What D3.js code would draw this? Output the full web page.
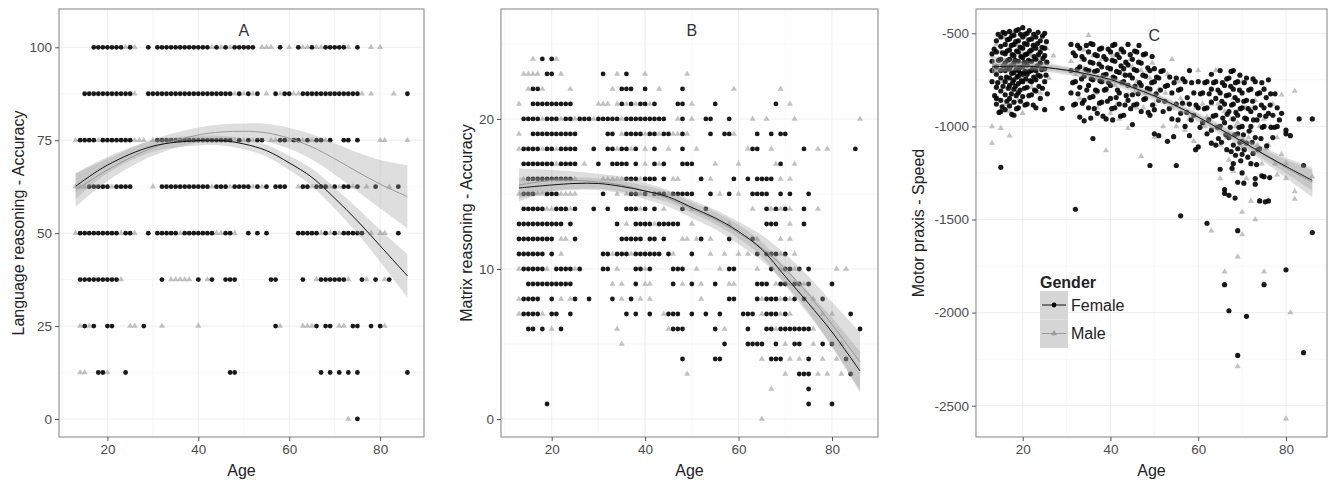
<!DOCTYPE html>
<html><head><meta charset="utf-8">
<script src="https://cdn.jsdelivr.net/npm/d3@7"></script>
<style>body{margin:0;background:#fff;} text{font-family:"Liberation Sans",Arial,sans-serif;}</style>
</head><body><svg id="c" width="1336" height="481"></svg>
<script>
// ---------------- Panel A: Language reasoning (accuracy levels) ----------------
const levelsA = [0, 12.5, 25, 37.5, 50, 62.5, 75, 87.5, 100];
const agesA_F = [
  [75],
  [18,19,24,47,48,67,69,71,73,75,86],
  [15,17,20,21,28,57,66,68,69,74,75,78,80],
  [14,15,16,17,18,19,20,21,22,32,40,43,46,47,48,56,57,63,67,68,69,70,71,72,76,79,82],
  [14,15,16,17,18,19,20,21,22,24,25,29,31,32,33,34,35,37,38,39,40,41,42,43,46,47,51,53,55,62,63,64,65,66,68,70,72,73,74,75,76,84],
  [16,17,18,19,20,22,23,24,25,32,33,34,35,36,37,38,39,40,41,42,44,45,46,48,49,50,51,53,55,57,58,59,63,64,66,67,68,70,72,73,75,79,84],
  [14,15,16,17,19,20,21,22,23,24,25,31,32,33,34,35,36,37,38,39,40,41,42,43,44,45,46,47,49,51,53,54,58,59,61,62,64,66,67,69,72,73,75],
  [15,16,17,18,19,20,21,22,23,24,25,29,30,31,32,33,34,35,36,37,38,39,40,41,42,43,44,45,46,47,49,51,53,57,59,60,63,64,65,66,67,68,69,70,71,72,73,74,75,86],
  [17,18,19,20,21,22,23,25,29,31,32,33,34,35,36,37,38,39,40,41,42,44,46,48,49,50,51,52,58,62,65,68,69,70,71,72,75]
];
const agesA_M = [
  [73],
  [14,15,20],
  [14,16,25,26,32,40,58,63,64,65,71,72,81],
  [23,34,35,36,37,38,42,66,73,77,81],
  [13,23,26,36,44,45,48,67,69,71,78,80,81],
  [13,14,15,21,30,43,47,52,54,62,65,69,71,74,77,82],
  [13,18,26,27,28,30,48,50,52,56,57,60,63,65,68,80,81,86],
  [26,48,50,52,55,58,61,62,76,78,83],
  [24,26,43,45,47,54,55,56,60,63,64,66,67,73,78,80]
];
const fitAgesA = [13,20,30,40,45,50,55,60,65,70,75,80,86];
const fitA_F = [62.6,68.3,73.4,74.9,74.9,74.0,72.2,68.9,65.0,59.4,53.3,46.6,38.5];
const halfA_F = [3.5,2.2,1.5,1.3,1.3,1.4,1.6,1.9,2.3,2.8,3.4,4.3,5.8];
const fitA_M = [61.5,67.0,73.0,76.4,77.2,77.4,77.0,75.5,73.2,70.0,66.5,63.2,59.8];
const halfA_M = [4.5,3.0,2.2,2.0,2.0,2.1,2.4,2.8,3.4,4.2,5.2,6.5,8.5];
const ticksA = [0,25,50,75,100];

// ---------------- Panel B: Matrix reasoning (scores 0..24) ----------------
const levelsB = [0,1,2,3,4,5,6,7,8,9,10,11,12,13,14,15,16,17,18,19,20,21,22,23,24];
const agesB_F = [
  [],
  [19,75,80],
  [75],
  [73,74,75,84],
  [48,55,56,67,68,69,75,83],
  [57,62,63,64,65,68,72,73,78,80],
  [15,16,18,22,46,47,48,55,62,66,67,69,70,71,72,73,74,75,86],
  [14,15,16,17,20,21,24,36,38,41,45,46,47,50,53,56,61,62,63,66,67,68,70,84],
  [14,15,16,17,20,25,28,33,37,58,59,64,66,67,68,70,72,74,78],
  [15,16,17,18,19,20,21,22,23,24,38,46,50,55,64,65,66,69,70,72,73,75,80],
  [14,15,16,17,18,21,22,23,24,26,31,32,38,39,41,46,47,48,58,59,67,70,71,73,75],
  [13,14,15,16,17,18,20,31,32,34,35,36,38,39,40,41,42,43,45,50,64,66,67,68,70],
  [13,14,15,16,17,18,19,20,25,35,36,37,38,39,41,42,44,52,58,63],
  [13,14,15,16,17,18,19,20,21,22,24,34,38,39,40,41,43,44,45,46,47,66,67,68,74],
  [14,15,16,17,18,21,22,23,25,29,32,36,37,38,40,42,48,53,66,68,70,74],
  [14,15,16,19,20,21,31,37,38,40,42,43,44,46,47,48,49,50,54,58,63,64,65,66,69,71,75],
  [15,16,17,18,19,20,21,22,23,24,36,37,38,40,41,42,44,52,59,62,64,65,66,67],
  [14,15,16,17,18,19,20,22,23,24,25,30,33,34,35,36,38,42,44,48,49,50,69],
  [14,15,16,17,19,20,22,23,24,25,29,32,33,35,36,38,42,48,63,64,74,85],
  [16,17,18,19,20,21,22,23,24,25,32,33,36,37,38,39,41,42,44,45,48,54,57,58,64,67,69,70],
  [14,15,16,17,19,20,21,23,24,26,27,28,30,31,32,33,34,36,37,38,39,40,41,42,43,44,48,53,54,58],
  [16,17,18,19,20,21,22,23,24,35,37,39,40,42,47,48,55,68],
  [16,17,35,36,37,40,48],
  [19,20,31,36],
  [18,20]
];
const agesB_M = [
  [65],
  [],
  [67],
  [49,70,77,79,82],
  [65,71,73,78,81],
  [35,70,76,82],
  [20,34,45,57,68,76],
  [13,18,44,65,69,71,78,80],
  [13,22,24,35,39,41,52,65,69,71,76],
  [33,35,40,41,48,52,58,59,68,71,74],
  [13,19,25,34,40,51,56,64,69,72,81,83],
  [22,33,37,46,54,57,60,62,69,72],
  [22,23,48,49,51,54,64,69,71],
  [36,42,50,58,71],
  [19,20,24,39,44,50,63,67,69,71,77],
  [13,17,18,22,23,24,25,34,36,39,45,56,60],
  [14,25,31,32,33,34,35,39,46,47,54,69,71],
  [21,27,40,43,55,60,68,72],
  [13,18,21,34,37,40,45,51,62,67,77,79],
  [13,35,40,43,46,47,49,59],
  [18,22,25,29,35,47,50,63,66,72,86],
  [13,30,31,32,34,36,38,41,50,71],
  [15,18,24,33,43,59,69],
  [14,15,16,17,22,34,40,49],
  [16,21]
];
const fitAgesB = [13,20,25,30,35,40,45,50,55,60,65,70,75,80,86];
const fitB_F = [15.4,15.6,15.7,15.7,15.5,15.2,14.8,14.1,13.4,12.5,11.3,9.5,7.7,5.8,3.2];
const halfB_F = [0.7,0.45,0.4,0.35,0.35,0.35,0.35,0.35,0.4,0.45,0.5,0.6,0.75,0.95,1.3];
const fitB_M = [15.6,15.9,15.9,15.8,15.6,15.2,14.7,14.0,13.3,12.4,11.4,10.0,8.3,6.3,3.8];
const halfB_M = [1.1,0.7,0.6,0.55,0.55,0.55,0.55,0.6,0.65,0.75,0.85,1.0,1.2,1.5,2.0];
const ticksB = [0,10,20];

// ---------------- Panel C: Motor praxis speed [age, speed] ----------------
const ptsC_F = [
 [13,-610],[13,-700],[13,-760],[13,-650],[14,-540],[14,-600],[14,-680],[14,-720],[14,-790],[14,-850],[14,-880],[15,-1220],
 [15,-520],[15,-570],[15,-640],[15,-700],[15,-740],[15,-810],[15,-920],[15,-860],[16,-500],[16,-560],[16,-610],[16,-660],
 [16,-700],[16,-760],[16,-830],[16,-910],[17,-490],[17,-530],[17,-590],[17,-640],[17,-690],[17,-740],[17,-780],[17,-850],
 [17,-890],[18,-510],[18,-560],[18,-620],[18,-660],[18,-710],[18,-750],[18,-800],[18,-870],[18,-940],[19,-480],[19,-540],
 [19,-600],[19,-650],[19,-700],[19,-730],[19,-770],[19,-820],[19,-900],[20,-470],[20,-520],[20,-580],[20,-630],[20,-680],
 [20,-720],[20,-760],[20,-840],[21,-500],[21,-560],[21,-610],[21,-670],[21,-720],[21,-790],[21,-880],[22,-530],[22,-590],
 [22,-650],[22,-700],[22,-760],[22,-830],[23,-520],[23,-580],[23,-640],[23,-700],[23,-750],[23,-810],[23,-900],[24,-540],
 [24,-600],[24,-660],[24,-730],[24,-850],[25,-500],[25,-580],[25,-620],[25,-690],[25,-760],[25,-910],
 [13.5,-585],[13.6,-835],[14.4,-505],[14.5,-645],[14.3,-765],[14.6,-925],[15.5,-495],[15.4,-605],[15.6,-675],[15.5,-785],[15.3,-895],[16.5,-535],
 [16.4,-595],[16.6,-645],[16.5,-685],[16.3,-735],[16.7,-795],[16.4,-865],[17.5,-515],[17.4,-565],[17.6,-615],[17.3,-675],[17.5,-715],[17.7,-765],
 [17.4,-825],[17.5,-935],[18.5,-485],[18.4,-545],[18.6,-595],[18.3,-645],[18.5,-695],[18.7,-735],[18.4,-785],[18.5,-835],[18.6,-905],[19.5,-505],
 [19.4,-575],[19.6,-625],[19.3,-685],[19.5,-715],[19.7,-755],[19.4,-805],[19.5,-865],[20.5,-505],[20.4,-555],[20.6,-615],[20.3,-655],[20.5,-705],
 [20.7,-745],[20.4,-795],[20.5,-885],[21.5,-485],[21.4,-535],[21.6,-595],[21.3,-645],[21.5,-705],[21.7,-755],[21.4,-835],[22.5,-505],[22.4,-565],
 [22.6,-625],[22.3,-685],[22.5,-735],[22.7,-805],[22.4,-885],[23.5,-495],[23.4,-555],[23.6,-615],[23.3,-675],[23.5,-725],[23.7,-785],[24.5,-515],
 [24.4,-575],[24.6,-635],[24.3,-695],[24.5,-795],[25.4,-545],[25.5,-655],[25.3,-725],[25.6,-825],
 [29,-903],[31,-560],[31,-700],[31,-820],[32,-620],[32,-760],[32,-880],[32,-1445],[33,-580],[33,-680],[33,-790],[33,-950],
 [34,-640],[34,-730],[34,-860],[34,-970],[35,-600],[35,-700],[35,-780],[35,-900],[36,-560],[36,-660],[36,-750],[36,-840],
 [36,-1065],[37,-620],[37,-700],[37,-810],[37,-930],[38,-580],[38,-680],[38,-760],[38,-870],[39,-640],[39,-720],[39,-800],
 [39,-960],[40,-600],[40,-690],[40,-780],[40,-850],[41,-560],[41,-650],[41,-740],[41,-900],[42,-630],[42,-710],[42,-820],
 [42,-880],[43,-600],[43,-690],[43,-760],[43,-940],[44,-560],[44,-670],[44,-780],[44,-860],[45,-640],[45,-740],[45,-830],
 [45,-990],[46,-600],[46,-700],[46,-880],[47,-660],[47,-780],[47,-920],[48,-610],[48,-730],[48,-850],[49,-700],[49,-800],
 [49,-940],[49,-1210],[50,-690],[50,-760],[50,-910],[50,-1040],
 [31.5,-605],[31.4,-765],[31.6,-885],[32.5,-565],[32.4,-695],[32.6,-825],[33.5,-625],[33.4,-745],[33.6,-875],[34.5,-565],[34.4,-695],[34.6,-805],
 [35.5,-555],[35.4,-655],[35.6,-745],[35.3,-845],[35.5,-955],[36.5,-615],[36.4,-705],[36.6,-805],[36.3,-905],[37.5,-585],[37.4,-665],[37.6,-755],
 [37.5,-875],[38.5,-625],[38.4,-725],[38.6,-805],[38.3,-945],[39.5,-585],[39.4,-685],[39.6,-765],[39.3,-865],[40.5,-565],[40.4,-645],[40.6,-735],
 [40.3,-905],[40.5,-965],[41.5,-615],[41.4,-705],[41.6,-805],[41.3,-845],[42.5,-585],[42.4,-675],[42.6,-765],[42.3,-945],[43.5,-655],[43.4,-725],
 [43.6,-835],[43.3,-885],[44.5,-615],[44.4,-725],[44.6,-905],[45.5,-595],[45.4,-695],[45.6,-785],[45.3,-885],[46.5,-565],[46.4,-655],[46.6,-765],
 [46.3,-825],[47.5,-615],[47.4,-725],[47.6,-855],[48.5,-685],[48.4,-795],[48.6,-925],[49.5,-625],[49.4,-765],[49.6,-885],[50.5,-735],[50.4,-825],
 [51,-740],[51,-860],[51,-1050],[52,-700],[52,-920],[53,-780],[53,-1080],[54,-820],[54,-960],[55,-740],[55,-880],[55,-1210],
 [56,-800],[56,-1480],[56,-930],[57,-760],[57,-1000],[58,-700],[58,-880],[58,-1050],[59,-820],[59,-940],[60,-760],[60,-900],
 [60,-1110],[61,-820],[61,-980],[62,-760],[62,-900],[62,-1520],[62,-1040],
 [51.5,-705],[51.4,-805],[52.5,-785],[52.4,-865],[53.5,-735],[53.4,-905],[54.5,-765],[54.4,-1055],[55.5,-805],[55.4,-965],[56.5,-745],[56.4,-875],
 [57.5,-845],[57.4,-925],[58.5,-765],[58.4,-965],[59.5,-885],[59.4,-1125],[60.5,-825],[60.4,-1005],[61.5,-765],[61.4,-905],[62.5,-825],[62.4,-965],
 [63,-720],[63,-800],[63,-870],[63,-1020],[63,-1090],[64,-760],[64,-850],[64,-940],[64,-1100],[65,-700],[65,-820],[65,-900],
 [65,-1000],[65,-1230],[66,-780],[66,-880],[66,-980],[66,-1340],[66,-1360],[66,-1850],[67,-740],[67,-830],[67,-920],[67,-1060],
 [67,-1370],[67,-1990],[68,-700],[68,-800],[68,-880],[68,-960],[68,-1100],[68,-1200],[69,-760],[69,-860],[69,-940],[69,-1040],
 [69,-1120],[69,-1300],[69,-1560],[69,-2230],[70,-820],[70,-900],[70,-1000],[70,-1080],[70,-1150],[70,-1250],[71,-740],[71,-860],
 [71,-960],[71,-1090],[71,-2020],[72,-800],[72,-920],[72,-1000],[72,-1200],[73,-760],[73,-900],[73,-1060],[73,-1280],[73,-1310],
 [74,-820],[74,-940],[74,-1120],[74,-1400],[75,-800],[75,-900],[75,-1000],[75,-1270],[75,-1850],[76,-750],[76,-930],[76,-1400],
 [77,-940],[77,-1060],[78,-900],[78,-1000],
 [63.5,-765],[63.4,-945],[64.5,-805],[64.4,-1005],[64.6,-1065],[65.5,-765],[65.4,-865],[65.6,-955],[65.3,-1085],[66.5,-745],[66.4,-835],[66.6,-935],
 [66.3,-1045],[66.5,-1125],[67.5,-705],[67.4,-785],[67.6,-885],[67.3,-1005],[67.5,-1135],[67.7,-1225],[68.5,-765],[68.4,-845],[68.6,-925],[68.3,-1045],
 [68.5,-1155],[68.4,-1385],[69.5,-725],[69.4,-805],[69.6,-905],[69.3,-1005],[69.5,-1085],[69.7,-1185],[70.5,-765],[70.4,-865],[70.6,-955],[70.3,-1045],
 [70.5,-1125],[70.4,-1305],[71.5,-805],[71.4,-905],[71.6,-1025],[71.3,-1165],[72.5,-745],[72.4,-865],[72.6,-965],[72.3,-1085],[72.5,-1145],[73.5,-825],
 [73.4,-965],[73.6,-1125],[73.3,-1205],[74.5,-765],[74.4,-885],[74.6,-1005],[74.3,-1065],[74.5,-1265],[75.5,-845],[75.4,-945],[75.6,-1105],[75.3,-1405],
 [76.5,-825],[76.4,-885],[76.6,-1005],[76.3,-1275],[77.5,-825],[77.4,-1005],[78.5,-965],
 [79,-930],[80,-1020],[80,-1040],[80,-1770],[81,-1050],[83,-960],[86,-960],[84,-1210],[84,-2215],[86,-1570]
];
const ptsC_M = [
 [13,-620],[13,-1000],[13,-1090],[14,-560],[14,-700],[14,-780],[15,-600],[15,-690],[15,-1010],[16,-520],[16,-650],[16,-750],
 [16,-880],[17,-580],[17,-700],[17,-1050],[17,-920],[18,-490],[18,-640],[18,-720],[19,-560],[19,-690],[19,-860],[20,-610],
 [20,-740],[20,-930],[21,-540],[21,-680],[22,-620],[22,-790],[23,-560],[23,-700],[24,-600],[24,-820],[25,-660],[26,-740],[27,-620],
 [13.5,-680],[14.5,-640],[14.4,-850],[15.5,-520],[15.4,-760],[16.5,-590],[16.4,-700],[17.5,-500],[17.4,-640],[17.6,-800],[18.5,-560],[18.4,-680],
 [18.6,-820],[19.5,-620],[19.4,-760],[20.5,-520],[20.4,-670],[21.5,-610],[21.4,-760],[22.5,-560],[22.4,-700],[23.5,-640],[24.5,-700],[25.5,-580],
 [31,-650],[32,-720],[33,-850],[34,-590],[34,-690],[35,-780],[35,-510],[36,-620],[37,-900],[37,-740],[38,-640],[39,-1130],
 [39,-810],[40,-700],[40,-930],[41,-780],[42,-600],[42,-960],[43,-720],[44,-1010],[44,-830],[45,-680],[46,-760],[46,-900],
 [47,-1160],[47,-700],[48,-820],[49,-740],[50,-880],[50,-1060],
 [31.5,-760],[33.5,-640],[35.5,-700],[36.5,-820],[38.5,-760],[40.5,-620],[41.5,-880],[43.5,-660],[44.5,-640],[45.5,-820],[47.5,-900],[48.5,-700],[49.5,-660],
 [51,-800],[52,-1000],[53,-720],[54,-640],[54,-900],[55,-1000],[56,-850],[57,-1020],[58,-960],[59,-1080],[60,-700],[61,-880],
 [62,-950],[63,-1560],[52.5,-820],[55.5,-760],[57.5,-880],[59.5,-900],[61.5,-1000],
 [63,-880],[64,-700],[64,-1000],[65,-1100],[65,-1280],[66,-920],[66,-1780],[67,-1040],[67,-1180],[68,-850],[68,-1240],[69,-980],
 [69,-1700],[69,-2290],[70,-760],[70,-1120],[70,-1460],[70,-1580],[71,-900],[71,-1280],[72,-1020],[72,-1400],[73,-860],[73,-1500],
 [74,-1400],[74,-1000],[75,-960],[75,-1780],[76,-1100],[77,-880],[78,-1060],[78,-1260],
 [64.5,-880],[66.5,-1060],[67.5,-960],[68.5,-1000],[69.5,-1100],[70.5,-900],[71.5,-1060],[72.5,-900],[73.5,-1100],[74.5,-1200],[75.5,-1120],[76.5,-1000],[77.5,-1200],
 [79,-830],[80,-1280],[80,-2570],[81,-2000],[82,-810],[82,-1350],[82,-1390],[86,-1270],[80,-1200],[79,-1150]
];
const fitAgesC = [13,20,25,30,35,40,45,50,55,60,65,70,75,80,86];
const fitC_F = [-680,-676,-683,-698,-720,-748,-790,-836,-890,-950,-1015,-1080,-1150,-1215,-1290];
const halfC_F = [30,18,15,14,13,13,13,13,14,15,17,20,26,36,55];
const fitC_M = [-670,-672,-682,-700,-725,-755,-795,-840,-893,-952,-1015,-1083,-1152,-1222,-1300];
const halfC_M = [45,28,24,22,21,21,21,22,23,25,28,32,40,55,80];
const ticksC = [-2500,-2000,-1500,-1000,-500];

const ticksX = [20,40,60,80];
const panelLabels = ["A","B","C"];
const yTitles = ["Language reasoning - Accuracy","Matrix reasoning - Accuracy","Motor praxis - Speed"];
const legendTitle = "Gender";
const genders = ["Female","Male"];

// ---------------- drawing ----------------
const svg = d3.select('#c');
svg.append('rect').attr('width',1336).attr('height',481).attr('fill','#fff');
const FCOL = '#000', MCOL = '#9a9a9a';
let clipN = 0;

function levelPts(levels, ages){ const out=[]; levels.forEach((lv,i)=>ages[i].forEach(a=>out.push([a,lv]))); return out; }

function panel(c){
  const x = d3.scaleLinear().domain(c.xd).range([c.l, c.r]);
  const y = d3.scaleLinear().domain(c.yd).range([c.b, c.t]);
  const g = svg.append('g');
  const id = 'clip'+(clipN++);
  g.append('clipPath').attr('id',id).append('rect').attr('x',c.l).attr('y',c.t).attr('width',c.r-c.l).attr('height',c.b-c.t);
  // grid
  const minorX = [10,30,50,70];
  g.selectAll('.mx').data(minorX.filter(v=>v>c.xd[0]&&v<c.xd[1])).enter().append('line')
    .attr('x1',d=>x(d)).attr('x2',d=>x(d)).attr('y1',c.t).attr('y2',c.b).attr('stroke','#f5f5f5').attr('stroke-width',0.8);
  const minorY = [];
  for(let i=0;i<c.yt.length-1;i++) minorY.push((c.yt[i]+c.yt[i+1])/2);
  minorY.push(c.yt[c.yt.length-1] + (c.yt[1]-c.yt[0])/2); minorY.push(c.yt[0]-(c.yt[1]-c.yt[0])/2);
  g.selectAll('.my').data(minorY.filter(v=>v>c.yd[0]&&v<c.yd[1])).enter().append('line')
    .attr('y1',d=>y(d)).attr('y2',d=>y(d)).attr('x1',c.l).attr('x2',c.r).attr('stroke','#f5f5f5').attr('stroke-width',0.8);
  g.selectAll('.gx').data(ticksX).enter().append('line')
    .attr('x1',d=>x(d)).attr('x2',d=>x(d)).attr('y1',c.t).attr('y2',c.b).attr('stroke','#eeeeee').attr('stroke-width',1);
  g.selectAll('.gy').data(c.yt).enter().append('line')
    .attr('y1',d=>y(d)).attr('y2',d=>y(d)).attr('x1',c.l).attr('x2',c.r).attr('stroke','#eeeeee').attr('stroke-width',1);
  const pg = g.append('g').attr('clip-path','url(#'+id+')');
  // points
  const tri = d3.symbol().type(d3.symbolTriangle).size(16);
  pg.selectAll('.pm').data(c.pm).enter().append('path').attr('d',tri)
    .attr('transform',d=>`translate(${x(d[0])},${y(d[1])})`).attr('fill',MCOL).attr('fill-opacity',0.6);
  pg.selectAll('.pf').data(c.pf).enter().append('circle')
    .attr('cx',d=>x(d[0])).attr('cy',d=>y(d[1])).attr('r',c.r0||2.4).attr('fill',FCOL).attr('fill-opacity',0.9);
  // ribbons
  const mk = (fit,h)=>c.fa.map((a,i)=>({a, m:fit[i], lo:fit[i]-h[i], hi:fit[i]+h[i]}));
  const dF = mk(c.fF,c.hF), dM = mk(c.fM,c.hM);
  const area = d3.area().x(d=>x(d.a)).y0(d=>y(d.lo)).y1(d=>y(d.hi)).curve(d3.curveCatmullRom);
  const line = d3.line().x(d=>x(d.a)).y(d=>y(d.m)).curve(d3.curveCatmullRom);
  pg.append('path').attr('d',area(dM)).attr('fill','#999').attr('fill-opacity',0.32);
  pg.append('path').attr('d',area(dF)).attr('fill','#999').attr('fill-opacity',0.32);
  pg.append('path').attr('d',line(dM)).attr('fill','none').attr('stroke','#999').attr('stroke-width',1);
  pg.append('path').attr('d',line(dF)).attr('fill','none').attr('stroke','#111').attr('stroke-width',1);
  // border
  g.append('rect').attr('x',c.l).attr('y',c.t).attr('width',c.r-c.l).attr('height',c.b-c.t)
    .attr('fill','none').attr('stroke','#8c8c8c').attr('stroke-width',1.1);
  // axes
  const fmt = d=>String(d);
  const xa = g.append('g').attr('transform',`translate(0,${c.b})`).call(d3.axisBottom(x).tickValues(ticksX).tickSize(4).tickPadding(3).tickFormat(fmt));
  const ya = g.append('g').attr('transform',`translate(${c.l},0)`).call(d3.axisLeft(y).tickValues(c.yt).tickSize(4).tickPadding(3).tickFormat(fmt));
  [xa,ya].forEach(a=>{ a.select('.domain').remove(); a.selectAll('line').attr('stroke','#555');
    a.selectAll('text').attr('fill','#4d4d4d').style('font-size','13.5px').style('font-family','"Liberation Sans",Arial,sans-serif'); });
  // titles
  g.append('text').attr('x',(c.l+c.r)/2).attr('y',476).attr('text-anchor','middle').style('font-size','16px').attr('fill','#222').text('Age');
  g.append('text').attr('transform',`translate(${c.ytx},${(c.t+c.b)/2}) rotate(-90)`).attr('text-anchor','middle')
    .attr('dy','0.35em').style('font-size','16px').attr('fill','#222').text(c.ytitle);
  g.append('text').attr('x',x(50)).attr('y',y(c.lblY)).attr('dy','0.35em').attr('text-anchor','middle')
    .style('font-size','16px').attr('fill','#333').text(c.label);
  return {x,y,g};
}

panel({l:59,r:424,t:9,b:437,xd:[9.35,89.65],yd:[-4.85,110.3],yt:ticksA,
  pf:levelPts(levelsA,agesA_F), pm:levelPts(levelsA,agesA_M),
  fa:fitAgesA,fF:fitA_F,hF:halfA_F,fM:fitA_M,hM:halfA_M,ytx:18.5,ytitle:yTitles[0],label:panelLabels[0],lblY:104.5});
panel({l:501,r:878,t:9,b:437,xd:[9.15,89.85],yd:[-1.2,27.33],yt:ticksB,
  pf:levelPts(levelsB,agesB_F), pm:levelPts(levelsB,agesB_M),
  fa:fitAgesB,fF:fitB_F,hF:halfB_F,fM:fitB_M,hM:halfB_M,ytx:466.5,ytitle:yTitles[1],label:panelLabels[1],lblY:25.9});
panel({l:976,r:1327,t:9,b:437,xd:[9.35,89.35],yd:[-2668,-369.5],yt:ticksC,r0:2.6,
  pf:ptsC_F, pm:ptsC_M,
  fa:fitAgesC,fF:fitC_F,hF:halfC_F,fM:fitC_M,hM:halfC_M,ytx:918.5,ytitle:yTitles[2],label:panelLabels[2],lblY:-510});

// legend
const lg = svg.append('g').attr('transform','translate(1040,0)');
lg.append('text').attr('x',0).attr('y',288).style('font-size','16px').style('font-weight','bold').attr('fill','#222').text(legendTitle);
genders.forEach((gname,i)=>{
  const ky = 291 + i*28.5;
  lg.append('rect').attr('x',0).attr('y',ky).attr('width',28).attr('height',28.5).attr('fill','#d6d6d6');
  lg.append('line').attr('x1',2).attr('x2',26).attr('y1',ky+14).attr('y2',ky+14).attr('stroke',i?'#999':'#111').attr('stroke-width',1);
  if(i===0) lg.append('circle').attr('cx',14).attr('cy',ky+14).attr('r',2.4).attr('fill','#000');
  else lg.append('path').attr('d',d3.symbol().type(d3.symbolTriangle).size(16)).attr('transform',`translate(14,${ky+14})`).attr('fill','#999');
  lg.append('text').attr('x',31).attr('y',ky+14).attr('dy','0.35em').style('font-size','16px').attr('fill','#222').text(gname);
});
</script></body></html>
